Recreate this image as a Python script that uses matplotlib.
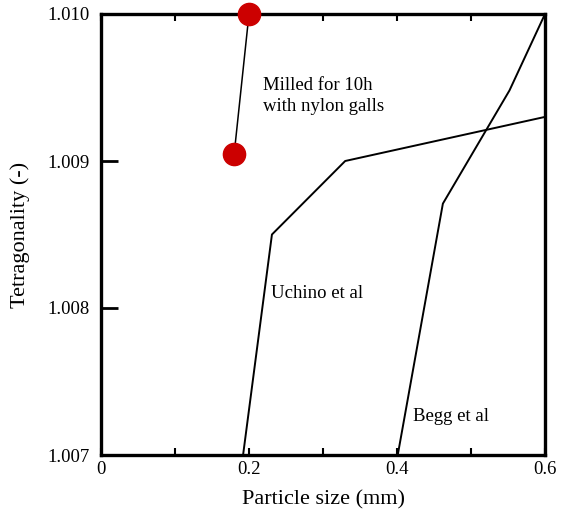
import matplotlib
matplotlib.use("Agg")
import matplotlib.pyplot as plt
from matplotlib.ticker import MultipleLocator

plt.rcParams["font.family"] = ["Liberation Serif", "DejaVu Serif"]

# particle size (mm) vs tetragonality
milled_size = [0.20, 0.18]
milled_tet = [1.0100, 1.00905]

uchino_size = [0.192, 0.231, 0.330, 0.600]
uchino_tet = [1.0070, 1.0085, 1.0090, 1.00930]

begg_size = [0.401, 0.462, 0.552, 0.600]
begg_tet = [1.0070, 1.00871, 1.00948, 1.0100]

fig = plt.figure(figsize=(5.61, 5.17), dpi=100)
ax = fig.add_axes([101 / 561, 62 / 517, 444 / 561, 441 / 517])

ax.plot(uchino_size, uchino_tet, color="black", lw=1.4)
ax.plot(begg_size, begg_tet, color="black", lw=1.4)
ax.plot(milled_size, milled_tet, color="black", lw=1.1)
ax.plot(milled_size, milled_tet, "o", color="#cc0000", ms=16, mec="#cc0000",
        clip_on=False, zorder=5)

ax.text(0.219, 1.00944, "Milled for 10h\nwith nylon galls", fontsize=13.5,
        linespacing=1.3, va="center")
ax.text(0.230, 1.00807, "Uchino et al", fontsize=13.5)
ax.text(0.422, 1.00723, "Begg et al", fontsize=13.5)

ax.set_xlim(0, 0.6)
ax.set_ylim(1.007, 1.010)
ax.set_xticks([0, 0.2, 0.4, 0.6])
ax.set_xticklabels(["0", "0.2", "0.4", "0.6"])
ax.xaxis.set_minor_locator(MultipleLocator(0.1))
ax.set_yticks([1.007, 1.008, 1.009, 1.010])
ax.set_yticklabels(["1.007", "1.008", "1.009", "1.010"])

ax.tick_params(axis="x", which="both", direction="in", top=True, length=5,
               width=1.5, labelsize=13.5, pad=4, colors="black")
ax.tick_params(axis="y", which="major", direction="in", length=12, width=2,
               labelsize=13.5, pad=8)

for s in ax.spines.values():
    s.set_linewidth(2.4)

ax.set_xlabel("Particle size (mm)", fontsize=16, labelpad=9)
ax.set_ylabel("Tetragonality (-)", fontsize=16, labelpad=13)

fig.savefig("out.png", dpi=100)
